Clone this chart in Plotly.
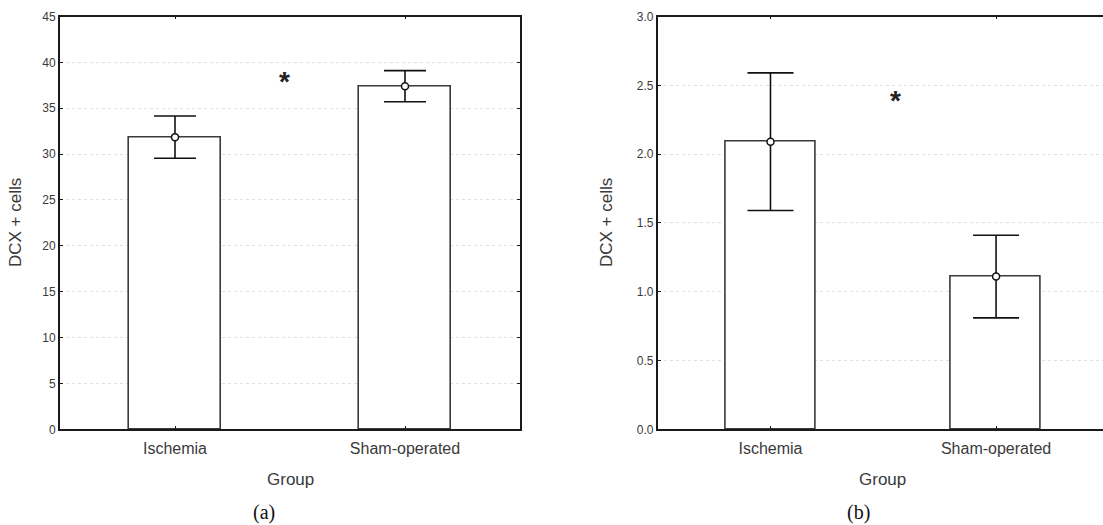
import plotly.graph_objects as go

# ---- data ----
groups = ["Ischemia", "Sham-operated"]
a_means = [31.85, 37.4]
a_errors = [2.3, 1.7]
b_means = [2.09, 1.11]
b_errors = [0.50, 0.30]
a_yticks = [0, 5, 10, 15, 20, 25, 30, 35, 40, 45]
b_yticks = [0.0, 0.5, 1.0, 1.5, 2.0, 2.5, 3.0]
y_title = "DCX + cells"
x_title = "Group"
captions = ["(a)", "(b)"]
star_a = (0.475, 37.9)
star_b = (0.552, 2.39)

W, H = 1103, 525
AX = "#1a1a1a"
TXT = "#3a3a3a"
GRID = "#e0e0e0"

fig = go.Figure()

def add_panel(xref, yref, means, errs, capw):
    fig.add_trace(go.Bar(
        x=groups, y=means, width=0.40, xaxis=xref, yaxis=yref,
        marker=dict(color="white", line=dict(color="#3a3a3a", width=1.6)),
        error_y=dict(type="data", array=errs, color="#111111", thickness=1.6, width=capw),
        hoverinfo="skip",
    ))
    fig.add_trace(go.Scatter(
        x=groups, y=means, mode="markers", xaxis=xref, yaxis=yref,
        marker=dict(symbol="circle", size=7, color="white",
                    line=dict(color="#111111", width=1.5)),
        hoverinfo="skip",
    ))

add_panel("x", "y", a_means, a_errors, 21)
add_panel("x2", "y2", b_means, b_errors, 23)

ydom = [1 - 429.3 / H, 1 - 16.5 / H]

common_x = dict(type="category", showgrid=False, showline=True, linecolor=AX, linewidth=1.8,
                ticks="inside", ticklen=3, tickcolor=AX, zeroline=False, automargin=False,
                ticklabelstandoff=4,
                tickfont=dict(family="Liberation Sans, Arial", size=16, color=TXT))
common_y = dict(showgrid=True, gridcolor=GRID, griddash="dot", gridwidth=1,
                showline=True, linecolor=AX, linewidth=1.8, zeroline=False, automargin=False,
                ticks="inside", ticklen=3, tickcolor=AX,
                tickfont=dict(family="Liberation Sans, Arial", size=12, color=TXT))

fig.update_layout(
    width=W, height=H,
    margin=dict(l=0, r=0, t=0, b=0, autoexpand=False),
    paper_bgcolor="white", plot_bgcolor="white",
    showlegend=False, bargap=0,
    xaxis=dict(common_x, domain=[60 / W, 520 / W], range=[-0.5, 1.5], mirror="ticks", anchor="y"),
    yaxis=dict(common_y, domain=ydom, range=[0, 45], tickvals=a_yticks, mirror="ticks", anchor="x"),
    xaxis2=dict(common_x, domain=[657.7 / W, 1.0], range=[-0.5, 1.474], mirror="ticks", anchor="y2"),
    yaxis2=dict(common_y, domain=ydom, range=[0, 3], tickvals=b_yticks,
                tickformat=".1f", mirror=False, anchor="x2"),
)

ann = []
sans = "Liberation Sans, Arial"
for cx, cy_title_x in [(290 / W, 15 / W), (882 / W, 606 / W)]:
    ann.append(dict(text=x_title, x=cx, y=1 - 479 / H, xref="paper", yref="paper",
                    showarrow=False, xanchor="center", yanchor="middle",
                    font=dict(family=sans, size=17, color=TXT)))
    ann.append(dict(text=y_title, x=cy_title_x, y=1 - 223 / H, xref="paper", yref="paper",
                    showarrow=False, xanchor="center", yanchor="middle", textangle=-90,
                    font=dict(family=sans, size=17, color=TXT)))
for cap, cx in zip(captions, [264, 858]):
    ann.append(dict(text=cap, x=cx / W, y=1 - 512 / H, xref="paper", yref="paper",
                    showarrow=False, xanchor="center", yanchor="middle",
                    font=dict(family="Liberation Serif, Times New Roman", size=20, color="#111")))
ann.append(dict(text="<b>*</b>", x=star_a[0], y=star_a[1], xref="x", yref="y", showarrow=False,
                xanchor="center", yanchor="middle", font=dict(family=sans, size=28, color="#222")))
ann.append(dict(text="<b>*</b>", x=star_b[0], y=star_b[1], xref="x2", yref="y2", showarrow=False,
                xanchor="center", yanchor="middle", font=dict(family=sans, size=28, color="#222")))
fig.update_layout(annotations=ann)

fig.write_html(
    "out.html",
    config={"displayModeBar": False},
    post_script="document.body.style.margin='0';document.body.style.overflow='hidden';",
)
